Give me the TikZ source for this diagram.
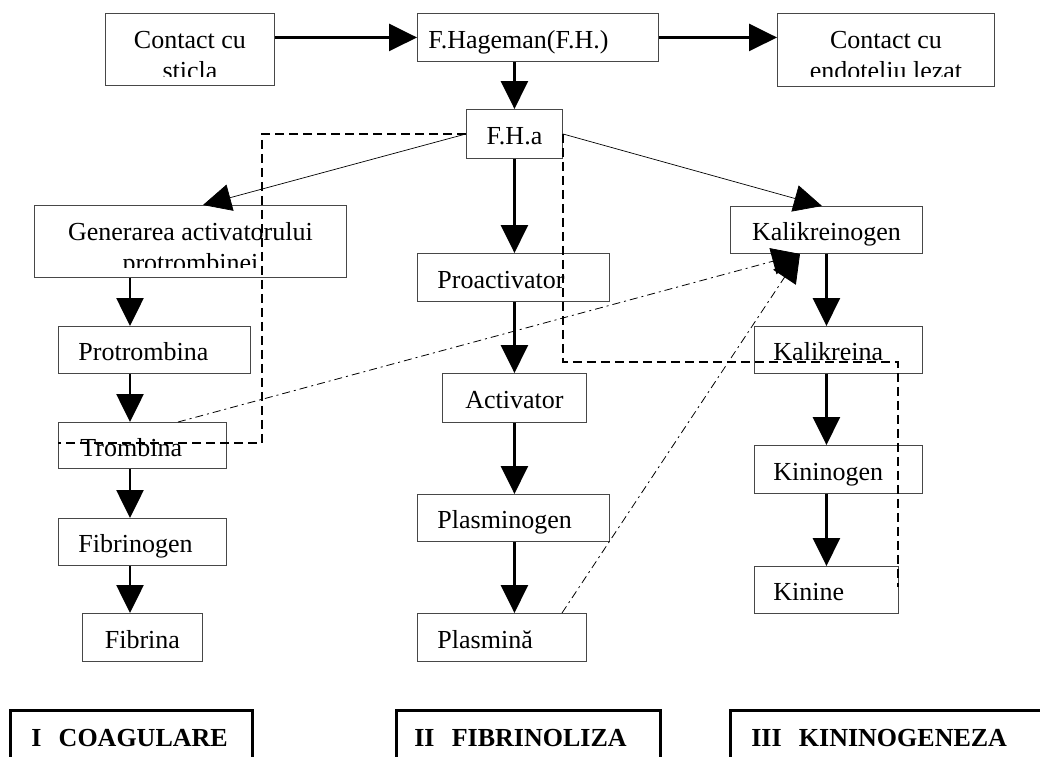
\documentclass[tikz,border=0pt]{standalone}
\usepackage{fontspec}
\setmainfont{Liberation Serif}
\usetikzlibrary{arrows.meta,calc}

\tikzset{
  frame/.style={draw=black!72, line width=0.9pt, anchor=north west, inner sep=0pt},
  stepbox/.style={frame, inner xsep=20pt, inner ysep=0pt, text height=24pt, text depth=2pt,
    align=left, font=\fontsize{26}{30}\selectfont},
  midbox/.style={stepbox, inner xsep=10pt, align=center},
  boxtext/.style={font=\fontsize{26}{30}\selectfont, inner sep=0pt, anchor=base},
  headtip/.style={-{Triangle[width=27pt,length=28pt]}},
  flow/.style={headtip, line width=2.6pt},
  branch/.style={headtip, line width=0.7pt},
  feedback/.style={headtip, line width=0.8pt, dash pattern=on 8pt off 4pt on 2pt off 4pt},
  group/.style={line width=1.6pt, dash pattern=on 9pt off 5pt},
  section/.style={draw, line width=2.6pt, anchor=north west, inner xsep=21pt, inner ysep=0pt,
    minimum height=56pt, align=left, text height=18pt, text depth=2pt,
    font=\bfseries\fontsize{26}{30}\selectfont}
}

\begin{document}
\begin{tikzpicture}[x=1pt,y=-1pt]
\fill[white] (0,0) rectangle (1040,756);
\clip (0,0) rectangle (1040,756);

% --- top row: contact triggers and factor XII ---
\node[frame, minimum width=169pt, minimum height=72pt] (sticla) at (105,13) {};
\begin{scope}
  \clip (sticla.north west) rectangle ([yshift=-63pt]sticla.north east);
  \node[boxtext] (sticlaA) at ([yshift=-35pt]sticla.north) {Contact cu};
  \node[boxtext] (sticlaB) at ([yshift=-66pt]sticla.north) {sticla};
\end{scope}

\node[stepbox, inner xsep=11pt, minimum width=241pt, minimum height=48pt, text width=219pt] (fh) at (417,13) {F.Hageman(F.H.)};

\node[frame, minimum width=217pt, minimum height=73pt] (endo) at (777,13) {};
\begin{scope}
  \clip (endo.north west) rectangle ([yshift=-63pt]endo.north east);
  \node[boxtext] (endoA) at ([yshift=-35pt]endo.north) {Contact cu};
  \node[boxtext] (endoB) at ([yshift=-66pt]endo.north) {endoteliu lezat};
\end{scope}

\node[midbox, minimum width=96pt, minimum height=49pt, text width=76pt] (fha) at (466,109) {F.H.a};

% --- I: coagulation column ---
\node[frame, minimum width=312pt, minimum height=72pt] (gen) at (34,205) {};
\begin{scope}
  \clip (gen.north west) rectangle ([yshift=-62pt]gen.north east);
  \node[boxtext] (genA) at ([yshift=-35pt]gen.north) {Generarea activatorului};
  \node[boxtext] (genB) at ([yshift=-66pt]gen.north) {protrombinei};
\end{scope}
\node[stepbox, minimum width=192pt, minimum height=47pt, text width=152pt] (prot) at (58,326) {Protrombina};
\node[stepbox, inner xsep=22pt, minimum width=168pt, minimum height=46pt, text width=124pt] (trom) at (58,422) {Trombina};
\node[stepbox, minimum width=168pt, minimum height=47pt, text width=128pt] (fibg) at (58,518) {Fibrinogen};
\node[midbox, minimum width=120pt, minimum height=48pt, text width=100pt] (fib) at (82,613) {Fibrina};

% --- II: fibrinolysis column ---
\node[stepbox, minimum width=192pt, minimum height=48pt, text width=152pt] (proact) at (417,253) {Proactivator};
\node[midbox, minimum width=144pt, minimum height=49pt, text width=124pt] (act) at (442,373) {Activator};
\node[stepbox, minimum width=192pt, minimum height=47pt, text width=152pt] (plg) at (417,494) {Plasminogen};
\node[stepbox, minimum width=169pt, minimum height=48pt, text width=129pt] (pl) at (417,613) {Plasmină};

% --- III: kinin column ---
\node[midbox, minimum width=192pt, minimum height=47pt, text width=172pt] (kg) at (730,206) {Kalikreinogen};
\node[stepbox, inner xsep=19pt, minimum width=168pt, minimum height=47pt, text width=130pt] (kr) at (754,326) {Kalikreina};
\node[stepbox, inner xsep=19pt, minimum width=168pt, minimum height=48pt, text width=130pt] (kn) at (754,445) {Kininogen};
\node[stepbox, inner xsep=19pt, minimum width=144pt, minimum height=47pt, text width=106pt] (ki) at (754,566) {Kinine};

% --- section captions ---
\node[section, minimum width=242pt, text width=200pt] (secI) at (9,709) {I\ \ COAGULARE};
\node[section, inner xsep=18pt, minimum width=264pt, text width=228pt] (secII) at (395,709) {II\ \ FIBRINOLIZA};
\node[section, minimum width=330pt, text width=288pt] (secIII) at (729,709) {III\ \ KININOGENEZA};

% --- activation arrows ---
\draw[flow] (sticla.east |- fh.west) -- (fh.west);
\draw[flow] (fh.east) -- (endo.west |- fh.east);
\draw[flow] (fha.north |- fh.south) -- (fha.north);
\draw[branch] (fha.west) -- ([xshift=169pt]gen.north west);
\draw[branch] (fha.east) -- ([xshift=92pt]kg.north west);

\coordinate (colL) at (130,0);
\draw[flow] (colL |- gen.south) -- (colL |- prot.north);
\draw[flow] (colL |- prot.south) -- (colL |- trom.north);
\draw[flow] (colL |- trom.south) -- (colL |- fibg.north);
\draw[flow] (colL |- fibg.south) -- (colL |- fib.north);

\draw[flow] (fha.south) -- (fha.south |- proact.north);
\draw[flow] (act.north |- proact.south) -- (act.north);
\draw[flow] (act.south) -- (act.south |- plg.north);
\draw[flow] (act.south |- plg.south) -- (act.south |- pl.north);

\draw[flow] (kg.south) -- (kg.south |- kr.north);
\draw[flow] (kg.south |- kr.south) -- (kg.south |- kn.north);
\draw[flow] (kg.south |- kn.south) -- (kg.south |- ki.north);

% --- feedback onto kallikreinogen ---
\draw[feedback] ([xshift=120pt]trom.north west) -- ([xshift=70pt]kg.south west);
\draw[feedback] ([xshift=145pt]pl.north west) -- ([xshift=70pt]kg.south west);

% --- dashed grouping lines ---
\coordinate (gl) at (262,443);
\draw[group] (fha.west) -| (gl) -- (gl -| trom.west);
\coordinate (gr) at (898,362);
\coordinate (gre) at (898,587);
\draw[group] (fha.east) |- (gr) -- (gre);
\end{tikzpicture}
\end{document}
